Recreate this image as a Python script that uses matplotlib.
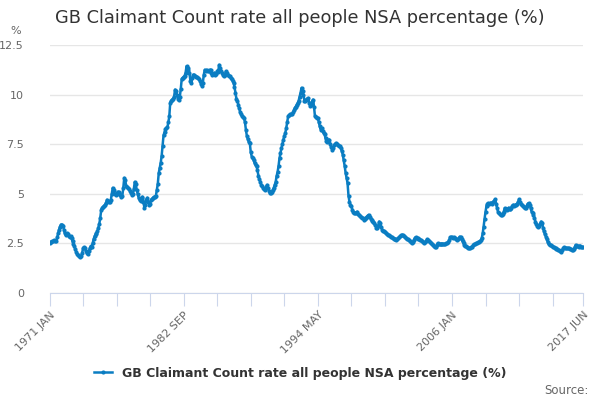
import matplotlib
matplotlib.use("Agg")
import matplotlib.pyplot as plt
import numpy as np
import pandas as pd

title = "GB Claimant Count rate all people NSA percentage (%)"
series_name = "GB Claimant Count rate all people NSA percentage (%)"
start_month = "1971-01"
end_month = "2017-06"

v1971 = [2.5, 2.55, 2.55, 2.6, 2.6, 2.65, 2.6, 2.6, 2.8, 3.0, 3.2, 3.35]
v1972 = [3.45, 3.45, 3.4, 3.2, 3.0, 2.9, 3.0, 2.95, 2.85, 2.8, 2.85, 2.75]
v1973 = [2.6, 2.45, 2.35, 2.2, 2.05, 1.95, 1.9, 1.85, 1.8, 1.85, 2.0, 2.25]
v1974 = [2.3, 2.25, 2.1, 2.0, 1.95, 2.1, 2.25, 2.35, 2.3, 2.5, 2.7, 2.85]
v1975 = [2.95, 3.0, 3.1, 3.3, 3.5, 3.8, 4.2, 4.3, 4.35, 4.4, 4.45, 4.55]
v1976 = [4.7, 4.65, 4.6, 4.6, 4.7, 5.0, 5.3, 5.2, 5.0, 4.95, 5.0, 5.1]
v1977 = [5.1, 5.05, 4.95, 4.85, 4.9, 5.3, 5.8, 5.7, 5.4, 5.35, 5.3, 5.25]
v1978 = [5.15, 5.05, 4.95, 5.0, 5.25, 5.6, 5.5, 5.2, 5.0, 4.8, 4.7, 4.65]
v1979 = [4.8, 4.85, 4.6, 4.3, 4.45, 4.7, 4.8, 4.6, 4.45, 4.5, 4.7, 4.75]
v1980 = [4.8, 4.85, 4.85, 4.9, 5.2, 5.5, 6.05, 6.3, 6.55, 6.9, 7.4, 7.95]
v1981 = [8.1, 8.25, 8.3, 8.35, 8.6, 8.9, 9.6, 9.7, 9.75, 9.8, 9.9, 10.25]
v1982 = [10.2, 10.0, 9.8, 9.75, 9.9, 10.3, 10.8, 10.85, 10.9, 10.95, 11.1, 11.43]
v1983 = [11.35, 11.25, 11.1, 10.7, 10.6, 10.85, 11.0, 11.0, 10.95, 10.9, 10.9, 10.85]
v1984 = [10.8, 10.7, 10.55, 10.45, 10.6, 11.0, 11.25, 11.2, 11.25, 11.2, 11.2, 11.25]
v1985 = [11.25, 11.1, 11.0, 11.05, 11.1, 11.0, 11.05, 11.2, 11.15, 11.5, 11.35, 11.2]
v1986 = [11.1, 11.0, 10.93, 11.0, 11.18, 11.1, 11.0, 10.95, 10.93, 10.85, 10.8, 10.7]
v1987 = [10.6, 10.4, 10.1, 9.8, 9.7, 9.5, 9.3, 9.1, 9.0, 8.9, 8.85, 8.8]
v1988 = [8.6, 8.2, 7.9, 7.75, 7.6, 7.56, 7.1, 6.88, 6.8, 6.7, 6.55, 6.45]
v1989 = [6.38, 6.2, 5.9, 5.75, 5.6, 5.45, 5.37, 5.3, 5.25, 5.2, 5.35, 5.45]
v1990 = [5.3, 5.15, 5.03, 5.05, 5.1, 5.2, 5.3, 5.45, 5.6, 5.9, 6.1, 6.4]
v1991 = [6.8, 7.05, 7.3, 7.5, 7.73, 7.9, 8.06, 8.3, 8.6, 8.9, 8.95, 9.0]
v1992 = [9.0, 9.0, 9.1, 9.2, 9.33, 9.4, 9.5, 9.58, 9.7, 9.9, 10.1, 10.34]
v1993 = [10.2, 10.0, 9.7, 9.66, 9.75, 9.8, 9.83, 9.6, 9.41, 9.5, 9.65, 9.75]
v1994 = [9.4, 8.9, 8.85, 8.8, 8.82, 8.6, 8.4, 8.23, 8.3, 8.15, 8.06, 8.0]
v1995 = [7.8, 7.64, 7.6, 7.7, 7.73, 7.5, 7.35, 7.22, 7.3, 7.45, 7.5, 7.56]
v1996 = [7.5, 7.45, 7.4, 7.39, 7.3, 7.15, 6.97, 6.7, 6.4, 6.05, 5.8, 5.54]
v1997 = [4.9, 4.6, 4.45, 4.36, 4.2, 4.1, 4.05, 4.03, 4.05, 4.1, 4.0, 3.95]
v1998 = [3.9, 3.85, 3.8, 3.77, 3.7, 3.75, 3.8, 3.85, 3.9, 3.94, 3.85, 3.75]
v1999 = [3.7, 3.65, 3.6, 3.55, 3.45, 3.27, 3.3, 3.4, 3.6, 3.55, 3.35, 3.2]
v2000 = [3.1, 3.1, 3.05, 3.0, 2.95, 2.93, 2.9, 2.88, 2.84, 2.8, 2.75, 2.72]
v2001 = [2.7, 2.7, 2.68, 2.7, 2.75, 2.8, 2.85, 2.9, 2.93, 2.9, 2.85, 2.8]
v2002 = [2.76, 2.72, 2.7, 2.65, 2.6, 2.55, 2.51, 2.55, 2.65, 2.75, 2.81, 2.78]
v2003 = [2.75, 2.72, 2.7, 2.68, 2.65, 2.6, 2.55, 2.51, 2.55, 2.62, 2.71, 2.68]
v2004 = [2.6, 2.55, 2.5, 2.45, 2.42, 2.35, 2.3, 2.32, 2.4, 2.51, 2.48, 2.45]
v2005 = [2.45, 2.47, 2.48, 2.47, 2.45, 2.47, 2.5, 2.51, 2.55, 2.65, 2.81, 2.8]
v2006 = [2.8, 2.78, 2.8, 2.75, 2.7, 2.68, 2.7, 2.75, 2.84, 2.8, 2.7, 2.6]
v2007 = [2.5, 2.42, 2.38, 2.35, 2.3, 2.28, 2.25, 2.27, 2.3, 2.34, 2.4, 2.45]
v2008 = [2.45, 2.5, 2.51, 2.55, 2.58, 2.6, 2.65, 2.76, 3.0, 3.35, 3.75, 4.1]
v2009 = [4.4, 4.5, 4.53, 4.5, 4.53, 4.55, 4.5, 4.6, 4.65, 4.73, 4.5, 4.3]
v2010 = [4.1, 4.05, 4.0, 3.95, 3.94, 4.0, 4.1, 4.28, 4.25, 4.2, 4.23, 4.3]
v2011 = [4.25, 4.23, 4.3, 4.4, 4.45, 4.4, 4.45, 4.45, 4.5, 4.6, 4.73, 4.6]
v2012 = [4.5, 4.45, 4.4, 4.35, 4.28, 4.3, 4.4, 4.5, 4.53, 4.45, 4.3, 4.1]
v2013 = [4.03, 3.95, 3.8, 3.6, 3.5, 3.4, 3.35, 3.4, 3.5, 3.6, 3.55, 3.3]
v2014 = [3.1, 2.95, 2.84, 2.7, 2.55, 2.45, 2.42, 2.4, 2.36, 2.34, 2.3, 2.28]
v2015 = [2.25, 2.22, 2.2, 2.18, 2.15, 2.1, 2.09, 2.15, 2.25, 2.3, 2.28, 2.27]
v2016 = [2.26, 2.25, 2.25, 2.23, 2.2, 2.18, 2.17, 2.2, 2.3, 2.42, 2.38, 2.35]
v2017 = [2.34, 2.36, 2.38, 2.33, 2.3, 2.3]

values = (v1971 + v1972 + v1973 + v1974 + v1975 + v1976 + v1977 + v1978 + v1979 + v1980
          + v1981 + v1982 + v1983 + v1984 + v1985 + v1986 + v1987 + v1988 + v1989 + v1990
          + v1991 + v1992 + v1993 + v1994 + v1995 + v1996 + v1997 + v1998 + v1999 + v2000
          + v2001 + v2002 + v2003 + v2004 + v2005 + v2006 + v2007 + v2008 + v2009 + v2010
          + v2011 + v2012 + v2013 + v2014 + v2015 + v2016 + v2017)

months = pd.period_range(start_month, end_month, freq="M")
labels = [p.strftime("%Y %b").upper() for p in months]
n = len(months)
xs = np.arange(n)

y_ticks = [0, 2.5, 5, 7.5, 10, 12.5]
y_labels = ["0", "2.5", "5", "7.5", "10", "12.5"]

plt.rcParams["font.family"] = ["DejaVu Sans"]
fig = plt.figure(figsize=(6, 4), dpi=100)
ax = fig.add_axes([49.5 / 600, 1 - 293 / 400, (583.3 - 49.5) / 600, (293 - 45) / 400])

color = "#0a7dc2"
ax.plot(xs, values[:n], color=color, lw=1.8, marker="o", ms=3.0, mew=0,
        label=series_name, zorder=3)

ax.set_xlim(0, n - 1)
ax.set_ylim(0, 12.5)
ax.set_yticks(y_ticks)
ax.set_yticklabels(y_labels)
ax.yaxis.grid(True, color="#e6e6e6", lw=1)
ax.set_axisbelow(True)

tick_pos = list(range(0, n - 1, 35)) + [n - 1]
ax.set_xticks(tick_pos)
lbl_idx = [0, 140, 280, 420, n - 1]
ax.set_xticklabels([labels[i] if i in lbl_idx else "" for i in tick_pos],
                   rotation=45, ha="right", rotation_mode="anchor")

for s in ["top", "right", "left"]:
    ax.spines[s].set_visible(False)
ax.spines["bottom"].set_color("#ccd6eb")
ax.tick_params(axis="x", length=9, color="#ccd6eb", labelcolor="#666666",
               labelsize=8, pad=3)
ax.tick_params(axis="y", length=0, labelcolor="#666666", labelsize=8, pad=18.5)

fig.text(0.5, 1 - 18 / 400, title, ha="center", va="center", fontsize=12.75, color="#333333")
fig.text(10 / 600, 1 - 31 / 400, "%", ha="left", va="center", fontsize=8, color="#666666")
leg = fig.legend(loc="center", bbox_to_anchor=(0.5, 1 - 373 / 400), frameon=False,
                 prop={"weight": "bold", "size": 9}, handlelength=1.4, labelcolor="#333333")
fig.text(589 / 600, 1 - 390 / 400, "Source:", ha="right", va="center", fontsize=8.5, color="#666666")

fig.savefig("out.png", dpi=100)
